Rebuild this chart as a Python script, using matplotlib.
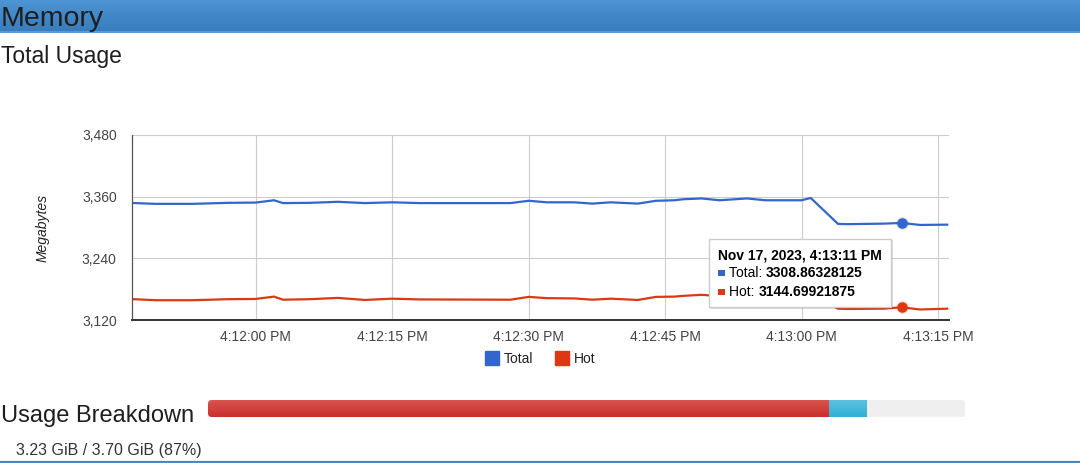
import numpy as np
import pandas as pd
import matplotlib
matplotlib.use('Agg')
import matplotlib.pyplot as plt
import matplotlib.dates as mdates
from matplotlib.patches import Rectangle, FancyBboxPatch
from matplotlib.lines import Line2D

plt.rcParams['font.family'] = ['Liberation Sans', 'DejaVu Sans']

# samples (local time, Nov 17 2023)
times = ['16:11:46', '16:11:49', '16:11:53', '16:11:57', '16:12:00', '16:12:02',
         '16:12:03', '16:12:06', '16:12:09', '16:12:12', '16:12:15', '16:12:18',
         '16:12:28', '16:12:30', '16:12:32', '16:12:35', '16:12:37', '16:12:39',
         '16:12:42', '16:12:44', '16:12:46', '16:12:47', '16:12:49', '16:12:51',
         '16:12:54', '16:12:56', '16:13:00', '16:13:01', '16:13:04', '16:13:05',
         '16:13:09', '16:13:11', '16:13:13', '16:13:16']
total_mb = [3348, 3346, 3346, 3348, 3348.5, 3353,
            3347.5, 3348, 3350, 3347.5, 3349, 3347.5,
            3347.5, 3352, 3349, 3349, 3346.5, 3349,
            3346.5, 3352, 3353, 3355, 3356.5, 3353,
            3356.5, 3353, 3353, 3357.5, 3307, 3306.5,
            3307.5, 3308.86, 3305, 3305.5]
hot_mb = [3161, 3158.5, 3158.5, 3160.5, 3161, 3165.5,
          3159.5, 3160.5, 3163, 3159, 3161.5, 3160,
          3159.5, 3165, 3162.5, 3162, 3159.5, 3161.5,
          3159, 3165, 3165.5, 3167, 3169, 3166.5,
          3169, 3166.5, 3166.5, 3170, 3142, 3141.5,
          3142, 3144.70, 3140.5, 3142]

y_ticks = [3120, 3240, 3360, 3480]
x_tick_times = ['16:12:00', '16:12:15', '16:12:30', '16:12:45', '16:13:00', '16:13:15']
x_tick_labels = ['4:12:00 PM', '4:12:15 PM', '4:12:30 PM', '4:12:45 PM', '4:13:00 PM', '4:13:15 PM']
x_start, x_end = '16:11:46.4', '16:13:16.2'

hover_time = '16:13:11'
hover_title = 'Nov 17, 2023, 4:13:11 PM'
hover_total = '3308.86328125'
hover_hot = '3144.69921875'

breakdown_pct = [82, 5]   # hot, rest of used
breakdown_text = '3.23 GiB / 3.70 GiB (87%)'

BLUE = '#3366cc'
RED = '#dc3912'
W, H = 1080, 463
day = '2023-11-17 '


def tnum(lst):
    return mdates.date2num(pd.to_datetime([day + s for s in lst]))


def px_rect(x0, y0, x1, y1):
    return [x0 / W, 1 - y1 / H, (x1 - x0) / W, (y1 - y0) / H]


def vgrad(c_top, c_bot, n=32):
    a = np.array(matplotlib.colors.to_rgb(c_top))
    b = np.array(matplotlib.colors.to_rgb(c_bot))
    g = np.linspace(0, 1, n)[:, None, None] * (b - a) + a
    return np.repeat(g, 2, axis=1)


fig = plt.figure(figsize=(W / 100, H / 100), dpi=100)

# header band
hx = fig.add_axes(px_rect(0, 0, W, 33))
hx.imshow(vgrad('#4d94d4', '#377cbd'), aspect='auto', extent=[0, 1, 0, 1])
hx.axhline(0.02, color='#5f9fdc', lw=1.2)
hx.axis('off')
fig.text(1 / W, 1 - 26 / H, 'Memory', fontsize=20.5, color='#1e1e1e', va='baseline')
fig.text(1 / W, 1 - 63 / H, 'Total Usage', fontsize=16.5, color='#1e1e1e', va='baseline')

# line chart
ax = fig.add_axes(px_rect(132, 135, 949, 320))
x = tnum(times)
ax.plot(x, total_mb, color=BLUE, lw=1.6, solid_joinstyle='round', label='Total')
ax.plot(x, hot_mb, color=RED, lw=1.6, solid_joinstyle='round', label='Hot')
hx_t = tnum([hover_time])[0]
ax.plot([hx_t], [float(hover_total)], 'o', ms=9, color=BLUE, alpha=0.25, mew=0, zorder=5)
ax.plot([hx_t], [float(hover_total)], 'o', ms=6.5, color=BLUE, zorder=5)
ax.plot([hx_t], [float(hover_hot)], 'o', ms=9, color=RED, alpha=0.25, mew=0, zorder=5)
ax.plot([hx_t], [float(hover_hot)], 'o', ms=6.5, color=RED, zorder=5)

lims = tnum([x_start, x_end])
ax.set_xlim(lims[0], lims[1])
ax.set_ylim(y_ticks[0], y_ticks[-1])
ax.set_yticks(y_ticks)
ax.set_yticklabels([f'{v:,}' for v in y_ticks])
ax.set_xticks(tnum(x_tick_times))
ax.set_xticklabels(x_tick_labels)
ax.tick_params(length=0, labelsize=10, labelcolor='#444444')
ax.tick_params(axis='y', pad=11)
ax.tick_params(axis='x', pad=7)
ax.grid(True, color='#cccccc', lw=0.8)
ax.set_axisbelow(True)
for s in ['top', 'right']:
    ax.spines[s].set_visible(False)
ax.spines['left'].set_color('#555555')
ax.spines['left'].set_linewidth(0.9)
ax.spines['bottom'].set_color('#333333')
ax.spines['bottom'].set_linewidth(1.4)

fig.text(43 / W, 1 - 228 / H, 'Megabytes', rotation=90, ha='center', va='center',
         fontsize=10, style='italic', color='#222222')

# legend
handles = [Line2D([], [], marker='s', ls='none', color=BLUE, ms=9.5, label='Total'),
           Line2D([], [], marker='s', ls='none', color=RED, ms=9.5, label='Hot')]
fig.legend(handles=handles, loc='center', bbox_to_anchor=(540 / W, 1 - 359 / H), ncol=2,
           frameon=False, fontsize=10, handlelength=1.0, handletextpad=0.35,
           columnspacing=1.6, labelcolor='#222222')

# tooltip
fig.add_artist(Rectangle((710 / W, 1 - 309 / H), 183 / W, 69 / H, transform=fig.transFigure,
                         facecolor='#000000', alpha=0.12, lw=0, zorder=9))
fig.add_artist(Rectangle((709 / W, 1 - 307 / H), 182 / W, 68 / H, transform=fig.transFigure,
                         facecolor='white', edgecolor='#cccccc', lw=1, zorder=10))
fig.text(718 / W, 1 - 255 / H, hover_title, fontsize=10, fontweight='bold',
         color='#000000', va='center', zorder=11)
renderer = fig.canvas.get_renderer()
for yc, name, val, col in [(272.7, 'Total: ', hover_total, BLUE),
                           (291.7, 'Hot: ', hover_hot, RED)]:
    fig.add_artist(Rectangle((718 / W, 1 - (yc + 3.5) / H), 6.5 / W, 6.5 / H,
                             transform=fig.transFigure, facecolor=col, lw=0, zorder=11))
    t1 = fig.text(729 / W, 1 - yc / H, name, fontsize=10, color='#000000',
                  va='center', zorder=11)
    ext = t1.get_window_extent(renderer)
    fig.text(ext.x1 / W, 1 - yc / H, val, fontsize=10, fontweight='bold',
             color='#000000', va='center', zorder=11)

# usage breakdown
fig.text(1 / W, 1 - 422 / H, 'Usage Breakdown', fontsize=17, color='#1e1e1e', va='baseline')
bx = fig.add_axes(px_rect(208, 400, 965, 417))
bx.axis('off')
bg = FancyBboxPatch((0, 0), 1, 1, boxstyle='round,pad=0,rounding_size=0.005',
                    mutation_aspect=757 / 17, transform=bx.transAxes,
                    facecolor='#efefef', edgecolor='none', zorder=0)
bx.add_patch(bg)
seg_colors = [('#d9534f', '#c9302c'), ('#5bc0de', '#31b0d5')]
left = 0
for pct, (ct, cb) in zip(breakdown_pct, seg_colors):
    im = bx.imshow(vgrad(ct, cb, 17), aspect='auto', zorder=2,
                   extent=[left, left + pct, -0.5, 0.5])
    im.set_clip_path(bg)
    left += pct
bx.set_xlim(0, 100)
bx.set_ylim(-0.5, 0.5)
fig.text(16 / W, 1 - 451 / H, breakdown_text, fontsize=11.5, color='#333333', va='center')

fig.add_artist(Line2D([0, 1], [1 - 462 / H] * 2, color='#3d8bd0', lw=1.6))

fig.savefig('out.png', dpi=100)
